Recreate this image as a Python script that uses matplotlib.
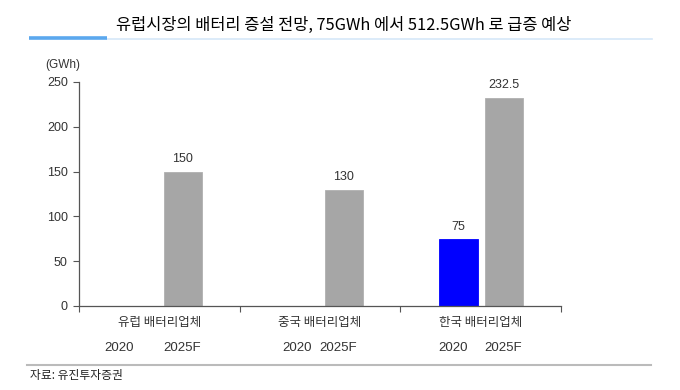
import matplotlib
matplotlib.use("Agg")
import matplotlib.pyplot as plt
from matplotlib.lines import Line2D

plt.rcParams['font.family'] = ['Liberation Sans', 'Noto Sans CJK KR', 'DejaVu Sans']

categories = ['유럽 배터리업체', '중국 배터리업체', '한국 배터리업체']
years = ['2020', '2025F']
values_2020 = [None, None, 75]
values_2025 = [150, 130, 232.5]
yticks = [0, 50, 100, 150, 200, 250]
title = '유럽시장의 배터리 증설 전망, 75GWh 에서 512.5GWh 로 급증 예상'
unit = '(GWh)'
source = '자료: 유진투자증권'

# year label offsets within each group (as drawn in the reference)
year_offsets = [(0.25, 0.64), (0.356, 0.61), (0.33, 0.64)]

fig = plt.figure(figsize=(6.8, 3.9), dpi=100)
ax = fig.add_axes([79/680, (390-306)/390, (561-79)/680, (306-82)/390])

w = 0.2375
off1, off2 = 0.3625, 0.647
for i, cat in enumerate(categories):
    v1 = values_2020[i]
    v2 = values_2025[i]
    if v1:
        ax.bar(i + off1, v1, width=w, color='#0000FF', edgecolor='#0000FF', linewidth=0.6)
        ax.text(i + off1, v1 + 7, f'{v1:g}', ha='center', va='bottom', fontsize=9, color='#333333')
    if v2:
        ax.bar(i + off2, v2, width=w, color='#A6A6A6', edgecolor='#B0B0B0', linewidth=0.6)
        ax.text(i + off2, v2 + 7, f'{v2:g}', ha='center', va='bottom', fontsize=9, color='#333333')
    ax.text(i + 0.5, -18, cat, ha='center', va='center', fontsize=9,
            family=['Noto Sans CJK KR'], color='#333333')
    for yl, xo in zip(years, year_offsets[i]):
        ax.text(i + xo, -46.5, yl, ha='center', va='center', fontsize=9.5, color='#333333')

ax.set_xlim(0, 3)
ax.set_ylim(0, 250)
ax.set_yticks(yticks)
ax.set_xticks([0, 1, 2, 3])
ax.set_xticklabels([])
ax.tick_params(axis='y', direction='out', length=4, width=0.8, colors='#555555', labelsize=9, labelcolor='#333333', pad=4)
ax.tick_params(axis='x', direction='out', length=4, width=0.8, colors='#555555')
for s in ['top', 'right']:
    ax.spines[s].set_visible(False)
for s in ['left', 'bottom']:
    ax.spines[s].set_color('#555555')
    ax.spines[s].set_linewidth(0.9)

fig.text(63/680, 1 - 65/390, unit, ha='center', va='center', fontsize=8.5, color='#333333')

fig.text(344/680, 1 - 25/390, title, ha='center', va='center', fontsize=11.8,
         family=['Noto Sans CJK KR'], color='#000000')
fig.add_artist(Line2D([107/680, 652/680], [1 - 38.5/390]*2, color='#D6E8F8', lw=1.2))
fig.add_artist(Line2D([29/680, 107/680], [1 - 38/390]*2, color='#5BA8EE', lw=2.6, solid_capstyle='butt'))

fig.add_artist(Line2D([27/680, 651/680], [1 - 365/390]*2, color='#BBBBBB', lw=1.5))
fig.text(30/680, 1 - 375/390, source, ha='left', va='center', fontsize=8.5,
         family=['Noto Sans CJK KR'], color='#222222')

fig.savefig('out.png', dpi=100)
